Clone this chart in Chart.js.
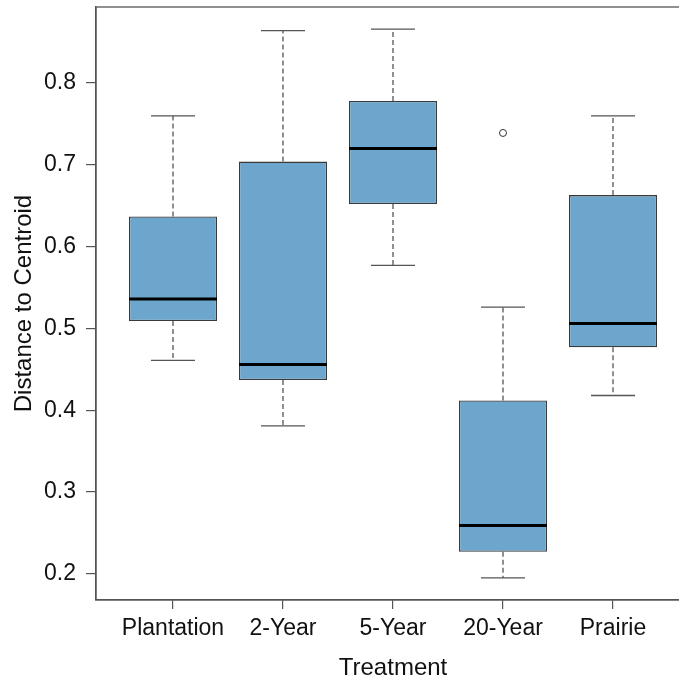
<!DOCTYPE html>
<html>
<head>
<meta charset="utf-8">
<script src="https://cdn.jsdelivr.net/npm/chart.js@4"></script>
<style>
  html, body { margin: 0; padding: 0; background: #fff; overflow: hidden; }
</style>
</head>
<body>
<canvas id="grafico" width="700" height="681"></canvas>
<script>
// groups along the x axis
const treatments = ["Plantation", "2-Year", "5-Year", "20-Year", "Prairie"];
// five-number summaries
const lowerWhisker = [0.461, 0.381, 0.577, 0.195, 0.418];
const q1 = [0.509, 0.437, 0.652, 0.227, 0.477];
const median = [0.536, 0.456, 0.720, 0.259, 0.506];
const q3 = [0.637, 0.704, 0.778, 0.412, 0.663];
const upperWhisker = [0.760, 0.864, 0.866, 0.526, 0.760];
// outliers: group position and value
const outlierGroup = [4];
const outlierValue = [0.739];
const yTicks = [0.2, 0.3, 0.4, 0.5, 0.6, 0.7, 0.8];

const frameColor = "#555555";
const fontFamily = "'Liberation Sans', Arial, sans-serif";

const boxExtras = {
    id: "boxExtras",
    afterDatasetsDraw(chart) {
        const ctx = chart.ctx;
        const y = chart.scales.y;
        const meta = chart.getDatasetMeta(0);
        ctx.save();
        meta.data.forEach((bar, i) => {
            const x = bar.x;
            const w = bar.width;
            // dashed whiskers
            ctx.strokeStyle = "#555";
            ctx.lineWidth = 1.3;
            ctx.setLineDash([5, 3]);
            ctx.beginPath();
            ctx.moveTo(x, y.getPixelForValue(q3[i]));
            ctx.lineTo(x, y.getPixelForValue(upperWhisker[i]));
            ctx.moveTo(x, y.getPixelForValue(q1[i]));
            ctx.lineTo(x, y.getPixelForValue(lowerWhisker[i]));
            ctx.stroke();
            // caps
            ctx.setLineDash([]);
            ctx.beginPath();
            ctx.moveTo(x - w / 4, y.getPixelForValue(upperWhisker[i]));
            ctx.lineTo(x + w / 4, y.getPixelForValue(upperWhisker[i]));
            ctx.moveTo(x - w / 4, y.getPixelForValue(lowerWhisker[i]));
            ctx.lineTo(x + w / 4, y.getPixelForValue(lowerWhisker[i]));
            ctx.stroke();
            // median
            ctx.strokeStyle = "#000";
            ctx.lineWidth = 3;
            ctx.beginPath();
            ctx.moveTo(x - w / 2, y.getPixelForValue(median[i]));
            ctx.lineTo(x + w / 2, y.getPixelForValue(median[i]));
            ctx.stroke();
        });
        // plot frame
        const a = chart.chartArea;
        ctx.strokeStyle = frameColor;
        ctx.lineWidth = 1.3;
        ctx.strokeRect(a.left, a.top, a.right - a.left, a.bottom - a.top);
        ctx.restore();
    }
};

const ctx = document.getElementById("grafico").getContext("2d");
new Chart(ctx, {
    type: "bar",
    data: {
        datasets: [
            {
                type: "bar",
                data: treatments.map((t, i) => ({ x: i + 1, y: [q1[i], q3[i]] })),
                backgroundColor: "#6CA6CD",
                borderColor: "#3a3a3a",
                borderWidth: 1.3,
                borderSkipped: false,
                barPercentage: 0.8,
                categoryPercentage: 1.0
            },
            {
                type: "scatter",
                data: outlierGroup.map((g, i) => ({ x: g, y: outlierValue[i] })),
                pointStyle: "circle",
                pointRadius: 3.5,
                pointBackgroundColor: "#fff",
                pointBorderColor: "#333",
                pointBorderWidth: 1
            }
        ]
    },
    options: {
        responsive: false,
        animation: false,
        layout: { padding: { top: 7, right: 10, left: 0, bottom: 0 } },
        plugins: {
            legend: { display: false },
            tooltip: { enabled: false }
        },
        scales: {
            x: {
                type: "linear",
                min: 0.3,
                max: 5.7,
                offset: false,
                afterBuildTicks: s => { s.ticks = treatments.map((t, i) => ({ value: i + 1 })); },
                afterFit: s => { s.height = 81; s.paddingLeft = 0; s.paddingRight = 0; },
                grid: { offset: false, drawOnChartArea: false, drawTicks: true, tickLength: 9, color: frameColor, lineWidth: 1.2 },
                border: { display: true, color: frameColor, width: 1.3 },
                ticks: {
                    autoSkip: false,
                    maxRotation: 0,
                    padding: 6,
                    color: "#111",
                    font: { family: fontFamily, size: 23 },
                    callback: v => treatments[v - 1]
                },
                title: {
                    display: true,
                    text: "Treatment",
                    color: "#111",
                    font: { family: fontFamily, size: 24 },
                    padding: { top: 0, bottom: -2 }
                }
            },
            y: {
                min: 0.168,
                max: 0.893,
                afterBuildTicks: s => { s.ticks = yTicks.map(v => ({ value: v })); },
                afterFit: s => { s.width = 96; s.paddingTop = 0; s.paddingBottom = 0; },
                grid: { drawOnChartArea: false, drawTicks: true, tickLength: 10, color: frameColor, lineWidth: 1.2 },
                border: { display: true, color: frameColor, width: 1.3 },
                ticks: {
                    padding: 10,
                    color: "#111",
                    font: { family: fontFamily, size: 23 },
                    callback: v => v.toFixed(1)
                },
                title: {
                    display: true,
                    text: "Distance to Centroid",
                    color: "#111",
                    font: { family: fontFamily, size: 24 },
                    padding: { top: 10, bottom: 0 }
                }
            }
        }
    },
    plugins: [boxExtras]
});
</script>
</body>
</html>
